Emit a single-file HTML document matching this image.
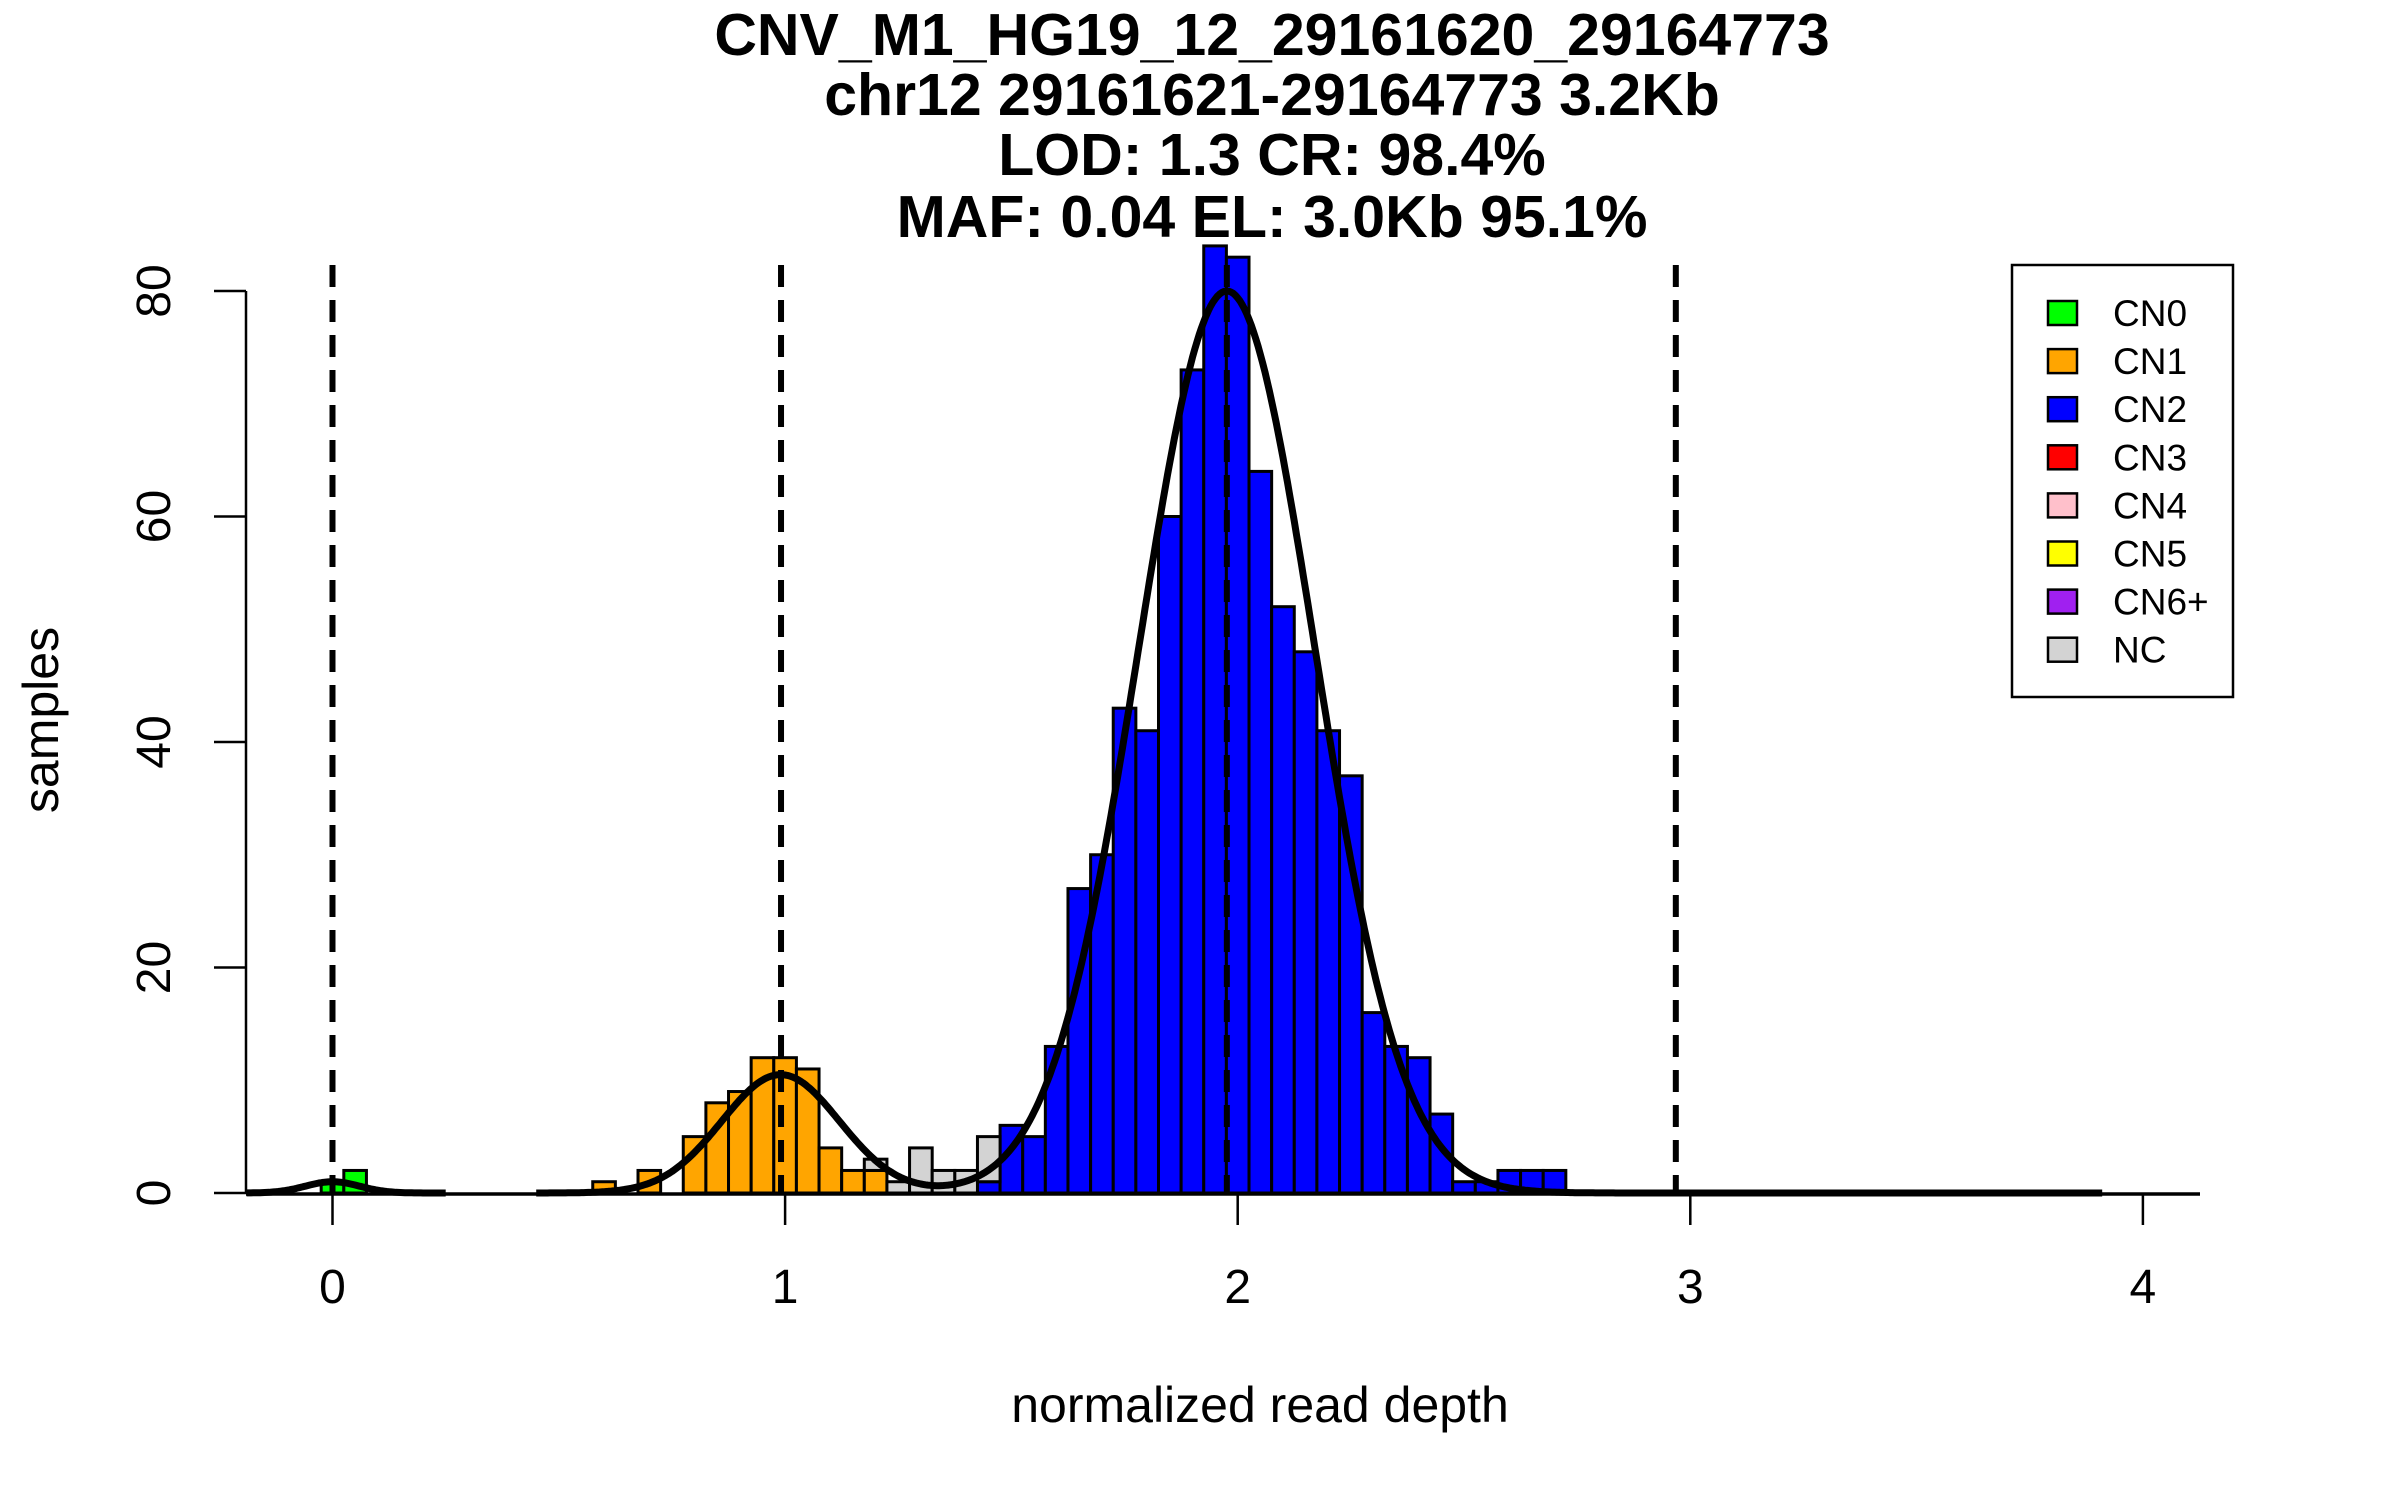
<!DOCTYPE html>
<html>
<head>
<meta charset="utf-8">
<style>
html,body{margin:0;padding:0;background:#fff;}
svg{display:block;}
text{font-family:"Liberation Sans",Arial,sans-serif;}
</style>
</head>
<body>
<svg id="chart" width="2400" height="1500" viewBox="0 0 2400 1500" xmlns="http://www.w3.org/2000/svg">
  <rect x="0" y="0" width="2400" height="1500" fill="#fff"/>
  <g font-weight="bold" font-size="59" text-anchor="middle" fill="#000">
    <text x="1272" y="55">CNV_M1_HG19_12_29161620_29164773</text>
    <text x="1272" y="115">chr12 29161621-29164773 3.2Kb</text>
    <text x="1272" y="175">LOD: 1.3 CR: 98.4%</text>
    <text x="1272" y="237">MAF: 0.04 EL: 3.0Kb 95.1%</text>
  </g>
  <g id="bars"></g>
  <g id="refs"></g>
  <g id="curve"></g>
  <g id="axes"></g>
  <text x="1260" y="1422" font-size="50" text-anchor="middle">normalized read depth</text>
  <text transform="translate(58,720) rotate(-90)" font-size="50" text-anchor="middle">samples</text>
  <g id="legend">
    <rect x="2012" y="265" width="221" height="432" fill="#fff" stroke="#000" stroke-width="2.5"/>
  </g>
</svg>
<script>
// ---- data ----
const binWidth = 0.05;
const greenStarts = [-0.025, 0.025];
const greenCounts = [1, 2];
const orangeStarts = [0.575, 0.675, 0.775, 0.825, 0.875, 0.925, 0.975, 1.025, 1.075, 1.125, 1.175];
const orangeCounts = [1, 2, 5, 8, 9, 12, 12, 11, 4, 2, 2];
const blueStarts = [1.425, 1.475, 1.525, 1.575, 1.625, 1.675, 1.725, 1.775, 1.825, 1.875, 1.925, 1.975, 2.025, 2.075, 2.125, 2.175, 2.225, 2.275, 2.325, 2.375, 2.425, 2.475, 2.525, 2.575, 2.625, 2.675];
const blueCounts = [1, 6, 5, 13, 27, 30, 43, 41, 60, 73, 84, 83, 64, 52, 48, 41, 37, 16, 13, 12, 7, 1, 1, 2, 2, 2];
const grayStarts = [1.175, 1.225, 1.275, 1.325, 1.375, 1.425];
const grayCounts = [1, 1, 4, 2, 2, 4];
const refLines = [0, 0.991, 1.976, 2.968];
const curveMeans = [0, 0.99, 1.976];
const curvePeaks = [1.0, 10.5, 80];
const curveSds = [0.06, 0.13, 0.194];
const xTicks = [0, 1, 2, 3, 4];
const yTicks = [0, 20, 40, 60, 80];
const legendLabels = ["CN0", "CN1", "CN2", "CN3", "CN4", "CN5", "CN6+", "NC"];
const legendColors = ["#00ff00", "#ffa500", "#0000ff", "#ff0000", "#ffc0cb", "#ffff00", "#a020f0", "#d3d3d3"];

// ---- scales ----
const NS = "http://www.w3.org/2000/svg";
function xs(u){ return 332.5 + u * 452.6; }
function ys(v){ return 1193 - v * 11.275; }
function mk(tag, attrs, parent){
  const el = document.createElementNS(NS, tag);
  for (const k in attrs) el.setAttribute(k, attrs[k]);
  parent.appendChild(el);
  return el;
}

// ---- bars ----
const barsG = document.getElementById("bars");
const base = {};
function key(s){ return s.toFixed(3); }
function drawSeries(starts, counts, color, name){
  starts.forEach((s, i) => {
    const b = base[key(s)] || 0;
    const top = b + counts[i];
    const r = mk("rect", {x: xs(s), y: ys(top), width: xs(s + binWidth) - xs(s), height: ys(b) - ys(top),
      fill: color, stroke: "#000", "stroke-width": 3}, barsG);
    
    
    base[key(s)] = top;
  });
}
drawSeries(greenStarts, greenCounts, "#00ff00", "cn0");
drawSeries(orangeStarts, orangeCounts, "#ffa500", "cn1");
drawSeries(blueStarts, blueCounts, "#0000ff", "cn2");
drawSeries(grayStarts, grayCounts, "#d3d3d3", "nc");

// ---- reference dashed lines ----
const refG = document.getElementById("refs");
refLines.forEach(v => {
  const l = mk("line", {x1: xs(v), x2: xs(v), y1: 265, y2: 1193, stroke: "#000", "stroke-width": 6, "stroke-dasharray": "22 13"}, refG);
  
  
});

// ---- density curve ----
const curveG = document.getElementById("curve");
function dens(u){
  let s = 0;
  for (let i = 0; i < curveMeans.length; i++){
    const z = (u - curveMeans[i]) / curveSds[i];
    s += curvePeaks[i] * Math.exp(-0.5 * z * z);
  }
  return s;
}
function seg(a, b){
  let d = "";
  for (let u = a; u <= b + 1e-9; u += 0.005){
    d += (d ? "L" : "M") + xs(u).toFixed(1) + "," + ys(dens(u)).toFixed(1);
  }
  return d;
}
const baseLine = mk("line", {x1: 246, x2: 2200, y1: 1194, y2: 1194, stroke: "#000", "stroke-width": 3.5}, curveG);


const cp = mk("path", {d: seg(-0.19, 0.25) + seg(0.45, 3.91), fill: "none", stroke: "#000", "stroke-width": 7, "stroke-linejoin": "round"}, curveG);



// ---- axes ----
const axG = document.getElementById("axes");
const yAx = mk("line", {x1: 246, x2: 246, y1: ys(80), y2: ys(0), stroke: "#000", "stroke-width": 2.5}, axG);


yTicks.forEach(v => {
  const t = mk("line", {x1: 214, x2: 246, y1: ys(v), y2: ys(v), stroke: "#000", "stroke-width": 2.5}, axG);
  
  
  const tx = mk("text", {transform: "translate(170," + ys(v) + ") rotate(-90)", "font-size": 48, "text-anchor": "middle"}, axG);
  tx.textContent = String(v);
  
  
});
xTicks.forEach(v => {
  const t = mk("line", {x1: xs(v), x2: xs(v), y1: 1194, y2: 1225, stroke: "#000", "stroke-width": 2.5}, axG);
  
  
  const tx = mk("text", {x: xs(v), y: 1303, "font-size": 48, "text-anchor": "middle"}, axG);
  tx.textContent = String(v);
  
  
});

// ---- legend ----
const lg = document.getElementById("legend");
legendLabels.forEach((lab, i) => {
  const cy = 313 + i * 48.1;
  const sw = mk("rect", {x: 2048, y: cy - 12, width: 29, height: 24, fill: legendColors[i], stroke: "#000", "stroke-width": 2.5}, lg);
  
  
  const tx = mk("text", {x: 2113, y: cy + 13, "font-size": 37}, lg);
  tx.textContent = lab;
  
  
});
</script>
</body>
</html>
